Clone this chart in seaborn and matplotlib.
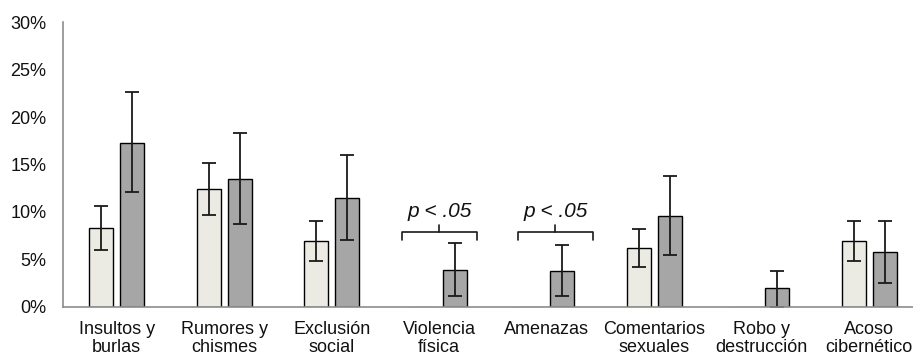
import matplotlib
matplotlib.use("Agg")
import matplotlib.pyplot as plt
import seaborn as sns
import pandas as pd
import numpy as np

categories = ["Insultos y\nburlas", "Rumores y\nchismes", "Exclusión\nsocial", "Violencia\nfísica",
              "Amenazas", "Comentarios\nsexuales", "Robo y\ndestrucción", "Acoso\ncibernético"]
groups = ["Grupo 1", "Grupo 2"]
values_g1 = [8.3, 12.4, 6.9, 0.0, 0.0, 6.25, 0.0, 6.9]
upper_g1 = [10.6, 15.2, 9.0, 0.0, 0.0, 8.2, 0.0, 9.0]
lower_g1 = [6.0, 9.7, 4.8, 0.0, 0.0, 4.2, 0.0, 4.8]
values_g2 = [17.3, 13.5, 11.5, 3.9, 3.8, 9.6, 1.95, 5.75]
upper_g2 = [22.6, 18.3, 16.0, 6.7, 6.5, 13.75, 3.8, 9.0]
lower_g2 = [12.1, 8.7, 7.1, 1.2, 1.15, 5.5, 0.0, 2.5]
annot_text = "p < .05"
annot_cats = [3, 4]
annot_shift = [0.0, 0.08]

sns.set_theme(style="white")
plt.rcParams['font.family'] = ['Liberation Sans', 'DejaVu Sans']

df = pd.DataFrame({
    "cat": categories * 2,
    "grp": [groups[0]] * 8 + [groups[1]] * 8,
    "val": values_g1 + values_g2,
})

fig = plt.figure(figsize=(9.13, 3.58), dpi=100)
ax = fig.add_axes([0.069, 0.1425, 0.931, 0.796])

sns.barplot(data=df, x="cat", y="val", hue="grp", order=categories, hue_order=groups,
            palette=["#EEECE1", "#A6A6A6"], width=0.58, gap=0.23, errorbar=None,
            edgecolor="black", linewidth=1.0, legend=False, ax=ax)

patches = [p for p in ax.patches]
n = len(categories)
for gi, (vals, up, lo) in enumerate([(values_g1, upper_g1, lower_g1), (values_g2, upper_g2, lower_g2)]):
    for ci in range(n):
        p = patches[gi * n + ci]
        xc = p.get_x() + p.get_width() / 2
        if up[ci] > 0:
            ax.errorbar(xc, vals[ci], yerr=[[vals[ci] - lo[ci]], [up[ci] - vals[ci]]],
                        fmt="none", ecolor="#1a1a1a", elinewidth=1.3, capsize=5, capthick=1.3)
        else:
            p.set_edgecolor("#888888")

for ci, sh in zip(annot_cats, annot_shift):
    c = ci + sh
    x0, x1 = c - 0.35, c + 0.35
    yb, ye, yt = 7.9, 7.0, 8.6
    ax.plot([x0, x0, x1, x1], [ye, yb, yb, ye], color="#1a1a1a", lw=1.2, solid_joinstyle="round")
    ax.plot([c, c], [yb, yt], color="#1a1a1a", lw=1.2)
    ax.text(c, 9.0, annot_text, ha="center", va="bottom", fontsize=15, style="italic", color="#111111")

ax.set_xlim(-0.5, 7.407)
ax.set_ylim(0, 30)
ax.set_yticks([0, 5, 10, 15, 20, 25, 30])
ax.set_yticklabels([f"{t}%" for t in [0, 5, 10, 15, 20, 25, 30]])
ax.set_xlabel("")
ax.set_ylabel("")
ax.tick_params(axis="both", length=0, labelsize=13, colors="#111111")
ax.tick_params(axis="y", pad=12)
ax.tick_params(axis="x", pad=10)
for lab in ax.get_xticklabels():
    lab.set_linespacing(1.05)
for s in ["top", "right"]:
    ax.spines[s].set_visible(False)
for s in ["left", "bottom"]:
    ax.spines[s].set_color("#8c8c8c")
    ax.spines[s].set_linewidth(1.2)

fig.savefig("out.png", dpi=100)
